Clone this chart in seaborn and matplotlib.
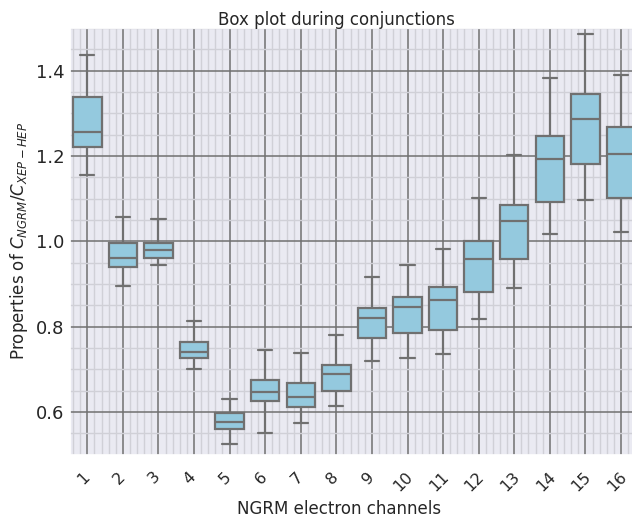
import matplotlib
matplotlib.use("Agg")
import matplotlib.pyplot as plt
import matplotlib.transforms as mtransforms
import pandas as pd
import seaborn as sns
from matplotlib.ticker import MultipleLocator

sns.set_theme(style="darkgrid")

# five-number summary per NGRM electron channel
channels = [str(i) for i in range(1, 17)]
whisker_low = [1.155, 0.895, 0.944, 0.700, 0.524, 0.551, 0.573, 0.615,
               0.720, 0.726, 0.736, 0.819, 0.890, 1.017, 1.096, 1.021]
q1 = [1.222, 0.940, 0.962, 0.726, 0.561, 0.626, 0.611, 0.649,
      0.774, 0.784, 0.793, 0.882, 0.958, 1.092, 1.181, 1.102]
median = [1.256, 0.960, 0.980, 0.741, 0.576, 0.646, 0.636, 0.689,
          0.821, 0.847, 0.862, 0.958, 1.048, 1.193, 1.287, 1.205]
q3 = [1.339, 0.995, 0.997, 0.765, 0.597, 0.675, 0.667, 0.710,
      0.843, 0.870, 0.894, 1.001, 1.086, 1.247, 1.345, 1.267]
whisker_high = [1.437, 1.057, 1.052, 0.813, 0.630, 0.745, 0.739, 0.781,
                0.917, 0.944, 0.982, 1.102, 1.202, 1.382, 1.487, 1.390]

rows = []
for i, ch in enumerate(channels):
    for v in (whisker_low[i], q1[i], median[i], q3[i], whisker_high[i]):
        rows.append({"channel": ch, "ratio": v})
df = pd.DataFrame(rows)

fig = plt.figure(figsize=(6.32, 5.18), dpi=100)
ax_left, ax_width = 69.5 / 632, 569.3 / 632
ax = fig.add_axes([ax_left, 63.4 / 518, ax_width, 426.5 / 518])

sns.boxplot(data=df, x="channel", y="ratio", order=channels, color="skyblue",
            whis=(0, 100), width=0.8, linewidth=1.6, linecolor="#707070", ax=ax)

ax.set_ylim(0.5, 1.5)
ax.set_xlim(-0.5, 15.5)
ax.yaxis.set_major_locator(MultipleLocator(0.2))
ax.yaxis.set_minor_locator(MultipleLocator(0.05))
ax.xaxis.set_minor_locator(MultipleLocator(0.2))
ax.grid(which="major", color="#707070", linewidth=1.1)
ax.grid(which="minor", color="#d0d0d7", linewidth=1.0)
ax.tick_params(which="both", length=0)
ax.tick_params(axis="y", labelsize=13)
ax.tick_params(axis="x", labelsize=11.5, rotation=45, pad=10.3)

# nudge rotated x labels a little left, as in the reference
nudge = mtransforms.ScaledTranslation(-4 / 100, 0, fig.dpi_scale_trans)
for lbl in ax.get_xticklabels():
    lbl.set_transform(lbl.get_transform() + nudge)

# title and x label sit left of the axes centre in the reference
ax.set_title("Box plot during conjunctions", fontsize=12,
             x=(336 - 69.5) / 569.3, pad=2.5)
ax.set_xlabel("NGRM electron channels", fontsize=12)
ax.xaxis.set_label_coords((339.5 - 69.5) / 569.3, -(509 - 454.6) / 426.5)
ax.xaxis.label.set_va("center")
ax.set_ylabel(r"Properties of $C_{NGRM}/C_{XEP-HEP}$", fontsize=12)

fig.savefig("out.png", dpi=100)
plt.close(fig)
